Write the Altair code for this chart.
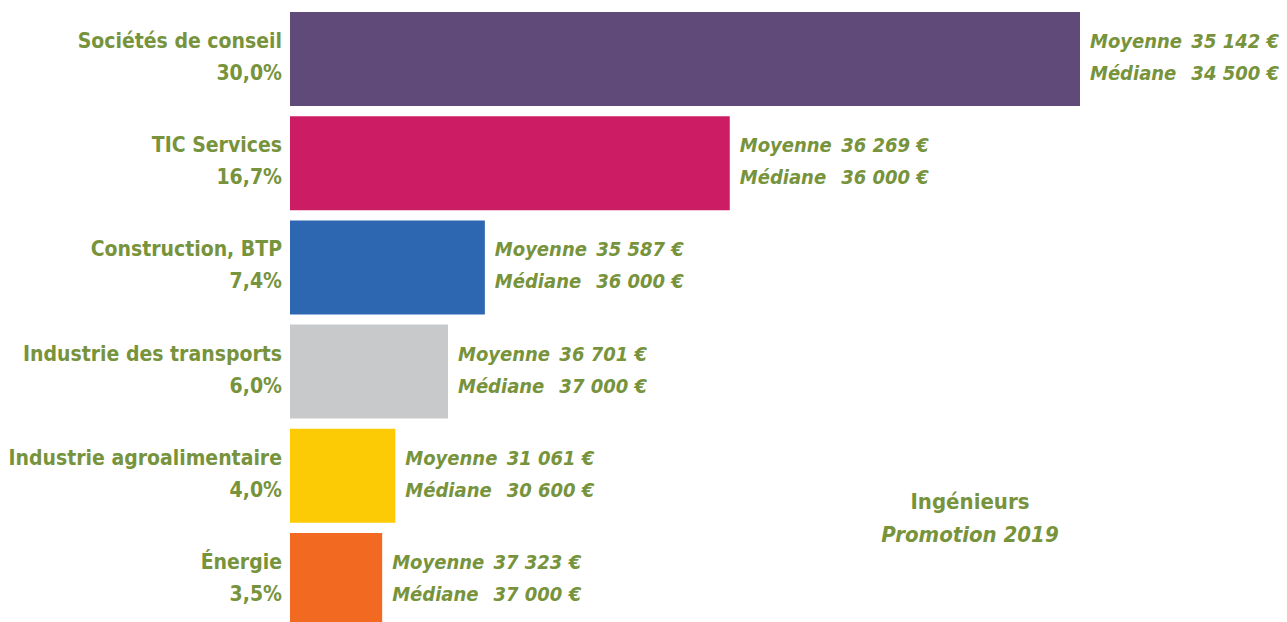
import altair as alt
import pandas as pd

categories = ["Sociétés de conseil", "TIC Services", "Construction, BTP",
              "Industrie des transports", "Industrie agroalimentaire", "Énergie"]
shares = [30.0, 16.7, 7.4, 6.0, 4.0, 3.5]
moyennes = [35142, 36269, 35587, 36701, 31061, 37323]
medianes = [34500, 36000, 36000, 37000, 30600, 37000]
colors = ["#5f4a7a", "#cc1c63", "#2e67b1", "#c8c9cb", "#fccb05", "#f26a21"]

GREEN = "#77933c"
FONT = "DejaVu Sans Condensed, Liberation Sans, sans-serif"


def eur(v):
    return f"{v:,}".replace(",", " ") + " €"


df = pd.DataFrame({
    "cat": categories,
    "share": shares,
    "share_lbl": [f"{s:.1f}".replace(".", ",") + "%" for s in shares],
    "moy": [eur(v) for v in moyennes],
    "med": [eur(v) for v in medianes],
})

W, H = 1271, 614
xs = alt.Scale(domain=[0, 30], range=[282, 1072], nice=False, zero=True)
ys = alt.Scale(domain=categories, range=[4, 619], paddingInner=0.098, paddingOuter=0)

base = alt.Chart(df)
X = alt.X("share:Q", scale=xs, axis=None)
Y = alt.Y("cat:N", scale=ys, axis=None, sort=categories)

bars = base.mark_bar().encode(
    x=alt.X("share:Q", scale=xs, axis=None),
    x2=alt.datum(0),
    y=Y,
    color=alt.Color("cat:N", scale=alt.Scale(domain=categories, range=colors), legend=None),
)

left = dict(font=FONT, fontSize=21, fontWeight="bold", color=GREEN, baseline="middle")
right = dict(font=FONT, fontSize=20, fontWeight="bold", fontStyle="italic", color=GREEN,
             baseline="middle")
ttl = dict(font=FONT, fontSize=22, fontWeight="bold", color=GREEN, baseline="middle")

name_lbl = base.mark_text(align="right", dy=-17, **left).encode(
    x=alt.value(274), y=Y, text="cat:N")
pct_lbl = base.mark_text(align="right", dy=15, **left).encode(
    x=alt.value(274), y=Y, text="share_lbl:N")

moy_word = base.mark_text(align="left", dx=10, dy=-17, **right).encode(
    x=X, y=Y, text=alt.value("Moyenne"))
moy_num = base.mark_text(align="right", dx=199, dy=-17, **right).encode(
    x=X, y=Y, text="moy:N")
med_word = base.mark_text(align="left", dx=10, dy=15, **right).encode(
    x=X, y=Y, text=alt.value("Médiane"))
med_num = base.mark_text(align="right", dx=199, dy=15, **right).encode(
    x=X, y=Y, text="med:N")

title_df = pd.DataFrame({"t": ["Ingénieurs"]})
t1 = alt.Chart(title_df).mark_text(align="center", **ttl).encode(
    x=alt.value(962), y=alt.value(494), text="t:N")
t2 = alt.Chart(title_df).mark_text(align="center", fontStyle="italic", **ttl).encode(
    x=alt.value(962), y=alt.value(527), text=alt.value("Promotion 2019"))

chart = alt.layer(bars, name_lbl, pct_lbl, moy_word, moy_num, med_word, med_num, t1, t2).properties(
    width=W, height=H, padding=0, autosize=alt.AutoSizeParams(type="none"),
    background="white",
).configure_view(stroke=None)

chart.save("out.html", embed_options={"renderer": "svg", "actions": False})
